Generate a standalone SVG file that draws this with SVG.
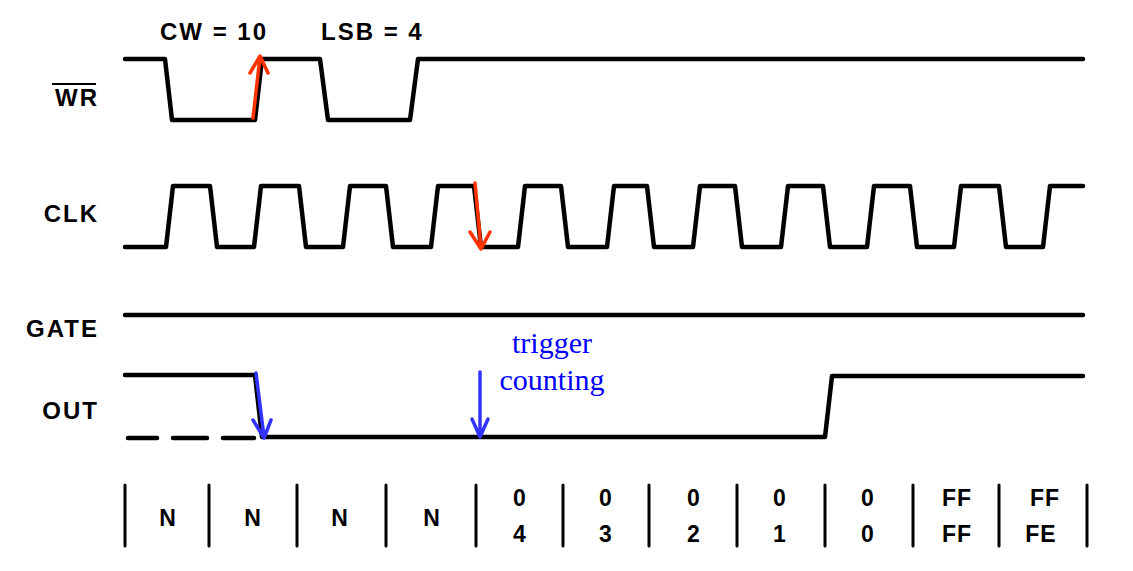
<svg xmlns="http://www.w3.org/2000/svg" width="1133" height="571" viewBox="0 0 1133 571">
<style>
.sig{fill:none;stroke:#000;stroke-width:4.5;stroke-linejoin:round;stroke-linecap:round}
.lbl{font-family:"Liberation Sans",Arial,sans-serif;font-weight:bold;font-size:24px;letter-spacing:2px;fill:#000}
.tbl{font-family:"Liberation Sans",Arial,sans-serif;font-weight:bold;font-size:23px;letter-spacing:1px;fill:#000;text-anchor:middle}
.bar{stroke:#000;stroke-width:3;stroke-linecap:round}
.red{fill:none;stroke:#ff3300;stroke-width:3.5;stroke-linecap:round;stroke-linejoin:round}
.blue{fill:none;stroke:#3333ff;stroke-width:3.5;stroke-linecap:round;stroke-linejoin:round}
.note{font-family:"Liberation Serif","Times New Roman",serif;font-size:30px;fill:#0000ff;text-anchor:middle}
</style>
<rect width="1133" height="571" fill="#fff"/>
<g id="wr">
<text class="lbl" x="99" y="106" text-anchor="end">WR</text>
<line x1="52" y1="84" x2="96" y2="84" stroke="#000" stroke-width="2"/>
<path class="sig" d="M125,59 H165 L172,120 H255 L262,59 H320 L328,120 H410 L418,59 H1083"/>
<text class="lbl" x="160" y="40">CW = 10</text>
<text class="lbl" x="321" y="40">LSB = 4</text>
</g>
<g id="clk">
<text class="lbl" x="99" y="222" text-anchor="end">CLK</text>
<path class="sig" d="M125,247 H166 L173,186 H210 L217,247 H254 L261,186 H299 L306,247 H343 L350,186 H386 L393,247 H431 L438,186 H474 L481,247 H518 L525,186 H561 L568,247 H607 L614,186 H647 L654,247 H693 L700,186 H735 L742,247 H781 L788,186 H823 L830,247 H867 L874,186 H910 L917,247 H954 L961,186 H999 L1006,247 H1043 L1050,186 H1083"/>
</g>
<g id="gate">
<text class="lbl" x="99" y="337" text-anchor="end">GATE</text>
<path class="sig" d="M125,315 H1083"/>
</g>
<g id="out">
<text class="lbl" x="99" y="419" text-anchor="end">OUT</text>
<path class="sig" d="M125,375 H255 L262,437 H825 L832,376 H1083"/>
<path class="sig" d="M128,438 H157 M173,438 H207 M223,438 H254"/>
</g>
<g id="table">
<line class="bar" x1="125" y1="485" x2="125" y2="546"/>
<line class="bar" x1="209" y1="485" x2="209" y2="546"/>
<line class="bar" x1="297" y1="485" x2="297" y2="546"/>
<line class="bar" x1="386" y1="485" x2="386" y2="546"/>
<line class="bar" x1="476" y1="485" x2="476" y2="546"/>
<line class="bar" x1="563" y1="485" x2="563" y2="546"/>
<line class="bar" x1="649" y1="485" x2="649" y2="546"/>
<line class="bar" x1="737" y1="485" x2="737" y2="546"/>
<line class="bar" x1="825" y1="485" x2="825" y2="546"/>
<line class="bar" x1="913" y1="485" x2="913" y2="546"/>
<line class="bar" x1="999" y1="485" x2="999" y2="546"/>
<line class="bar" x1="1087" y1="485" x2="1087" y2="546"/>
<text class="tbl" x="168" y="526">N</text>
<text class="tbl" x="253" y="526">N</text>
<text class="tbl" x="340" y="526">N</text>
<text class="tbl" x="432" y="526">N</text>
<text class="tbl" x="520" y="506">0</text><text class="tbl" x="520" y="542">4</text>
<text class="tbl" x="606" y="506">0</text><text class="tbl" x="606" y="542">3</text>
<text class="tbl" x="694" y="506">0</text><text class="tbl" x="694" y="542">2</text>
<text class="tbl" x="780" y="506">0</text><text class="tbl" x="780" y="542">1</text>
<text class="tbl" x="868" y="506">0</text><text class="tbl" x="868" y="542">0</text>
<text class="tbl" x="957" y="506">FF</text><text class="tbl" x="957" y="542">FF</text>
<text class="tbl" x="1045" y="506">FF</text><text class="tbl" x="1041" y="542">FE</text>
</g>
<g id="connectors">
<path class="red" d="M253,118 L260,57 M250,73 L260,56 L268,73"/>
<path class="red" d="M475,183 L481,248 M470,232 L481,249 L490,232"/>
<path class="blue" d="M256,373 L264,437 M253,420 L264,438 L271,420"/>
<path class="blue" d="M480,372 V436 M472,419 L480,437 L488,419"/>
</g>
<g id="annotation">
<text class="note" x="552" y="353">trigger</text>
<text class="note" x="552" y="390">counting</text>
</g>
</svg>
